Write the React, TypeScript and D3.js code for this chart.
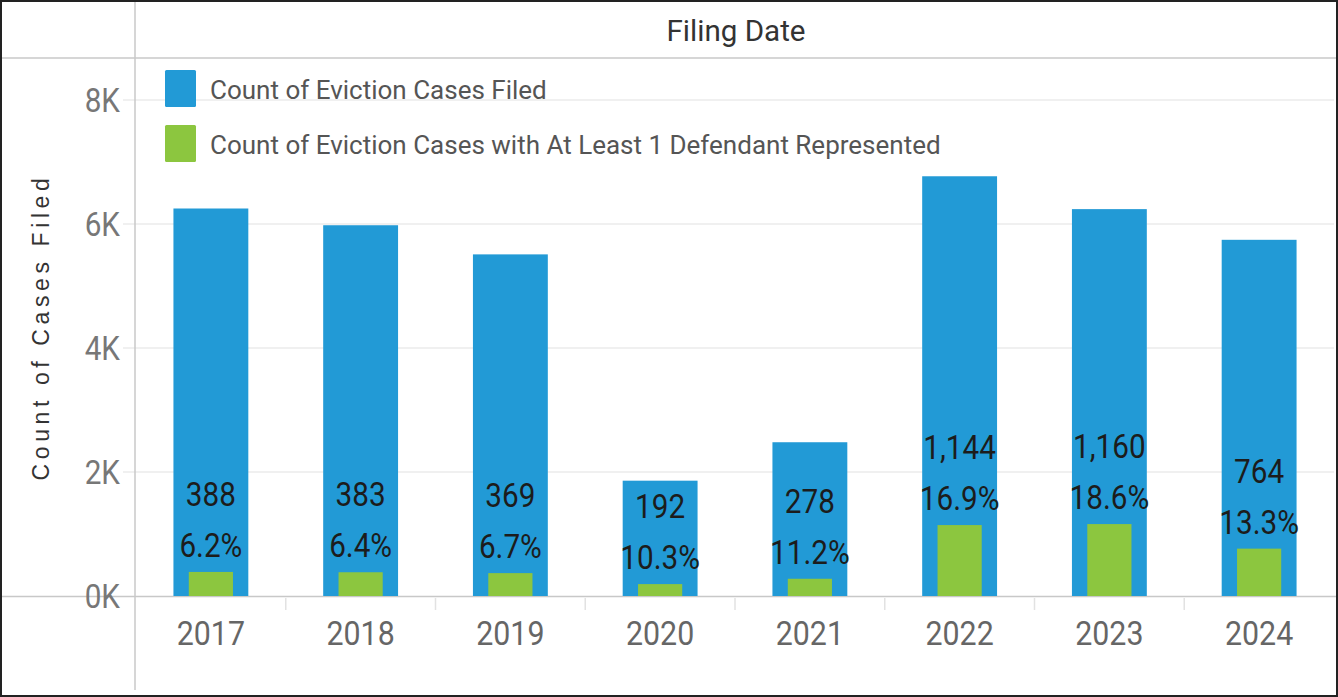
import React from "react";
import * as d3 from "d3";

const years = ["2017", "2018", "2019", "2020", "2021", "2022", "2023", "2024"];
const casesFiled = [6250, 5980, 5510, 1860, 2480, 6770, 6240, 5745];
const casesRepresented = [388, 383, 369, 192, 278, 1144, 1160, 764];
const yTicks = [0, 2000, 4000, 6000, 8000];
const legendLabels = [
  "Count of Eviction Cases Filed",
  "Count of Eviction Cases with At Least 1 Defendant Represented",
];
const headerTitle = "Filing Date";
const yTitle = "Count of Cases Filed";

const W = 1338;
const H = 697;
const BLUE = "#229ad6";
const GREEN = "#8cc63f";
const FONT = "Roboto, 'Open Sans', sans-serif";

function T(props: {
  x: number; y: number; size: number; fill: string; anchor?: string; sx?: number; children: React.ReactNode;
}) {
  const { x, y, size, fill, anchor = "start", sx = 0.9, children } = props;
  return (
    <text
      transform={`translate(${x},${y}) scale(${sx},1)`}
      fontFamily={FONT}
      fontSize={size}
      fill={fill}
      textAnchor={anchor as any}
    >
      {children}
    </text>
  );
}

export default function App() {
  const x = d3.scaleBand<string>().domain(years).range([136, 1334]).paddingInner(0).paddingOuter(0);
  const y = d3.scaleLinear().domain([0, 8000]).range([596, 100]);
  const bw = x.bandwidth();
  const blueW = bw * 0.5;
  const greenW = bw * 0.295;
  const fmtCount = d3.format(",");
  const fmtPct = d3.format(".1%");

  return (
    <svg width={W} height={H} style={{ position: "absolute", left: 0, top: 0, background: "#fff" }}>
      <rect x={0} y={0} width={W} height={H} fill="#fff" />
      {/* grid lines */}
      {yTicks.filter((t) => t > 0).map((t) => (
        <line key={t} x1={123} x2={1334} y1={y(t)} y2={y(t)} stroke="#ebebeb" strokeWidth={1.5} />
      ))}
      {/* header line, axis line, divider */}
      <line x1={0} x2={W} y1={58} y2={58} stroke="#c8c8c8" strokeWidth={1.5} />
      <line x1={0} x2={W} y1={y(0) + 0.5} y2={y(0) + 0.5} stroke="#c8c8c8" strokeWidth={1.5} />
      <line x1={135} x2={135} y1={0} y2={690} stroke="#c8c8c8" strokeWidth={1.5} />
      {/* band separators */}
      {years.slice(1).map((yr) => (
        <line key={yr} x1={x(yr)!} x2={x(yr)!} y1={y(0) + 2} y2={y(0) + 14} stroke="#e2e2e2" strokeWidth={1.5} />
      ))}
      {/* header */}
      <T x={736} y={41} size={29} fill="#333" anchor="middle" sx={1.02}>{headerTitle}</T>
      {/* y ticks */}
      {yTicks.map((t) => (
        <T key={t} x={120} y={y(t) + 12} size={33} fill="#777" anchor="end">{`${t / 1000}K`}</T>
      ))}
      {/* y title */}
      <text
        transform="translate(49,327) rotate(-90)"
        fontFamily="'Liberation Sans', Arial, sans-serif"
        fontSize={23}
        letterSpacing={4.6}
        fill="#333"
        textAnchor="middle"
      >
        {yTitle}
      </text>
      {/* bars */}
      {years.map((yr, i) => {
        const cx = x(yr)! + bw / 2;
        return (
          <g key={yr}>
            <rect x={cx - blueW / 2} y={y(casesFiled[i])} width={blueW} height={y(0) - y(casesFiled[i])} fill={BLUE} />
            <rect
              x={cx - greenW / 2}
              y={y(casesRepresented[i])}
              width={greenW}
              height={y(0) - y(casesRepresented[i])}
              fill={GREEN}
            />
          </g>
        );
      })}
      {/* labels */}
      {years.map((yr, i) => {
        const cx = x(yr)! + bw / 2;
        const gTop = y(casesRepresented[i]);
        const pctBase = gTop - 15;
        return (
          <g key={yr}>
            <T x={cx} y={pctBase - 51} size={33} fill="#1c1c1c" anchor="middle">{fmtCount(casesRepresented[i])}</T>
            <T x={cx} y={pctBase} size={33} fill="#1c1c1c" anchor="middle">
              {fmtPct(casesRepresented[i] / casesFiled[i])}
            </T>
          </g>
        );
      })}
      {/* x labels */}
      {years.map((yr) => (
        <T key={yr} x={x(yr)! + bw / 2} y={645} size={33} fill="#666" anchor="middle" sx={0.92}>{yr}</T>
      ))}
      {/* legend */}
      {legendLabels.map((lab, i) => (
        <g key={lab}>
          <rect x={165} y={70 + i * 55} width={31} height={37} rx={1.5} fill={i === 0 ? BLUE : GREEN} />
          <T x={210} y={99 + i * 55} size={26} fill="#555" sx={1.0}>{lab}</T>
        </g>
      ))}
      {/* outer border */}
      <rect x={1} y={1} width={W - 2} height={H - 2} fill="none" stroke="#222" strokeWidth={2} />
    </svg>
  );
}
